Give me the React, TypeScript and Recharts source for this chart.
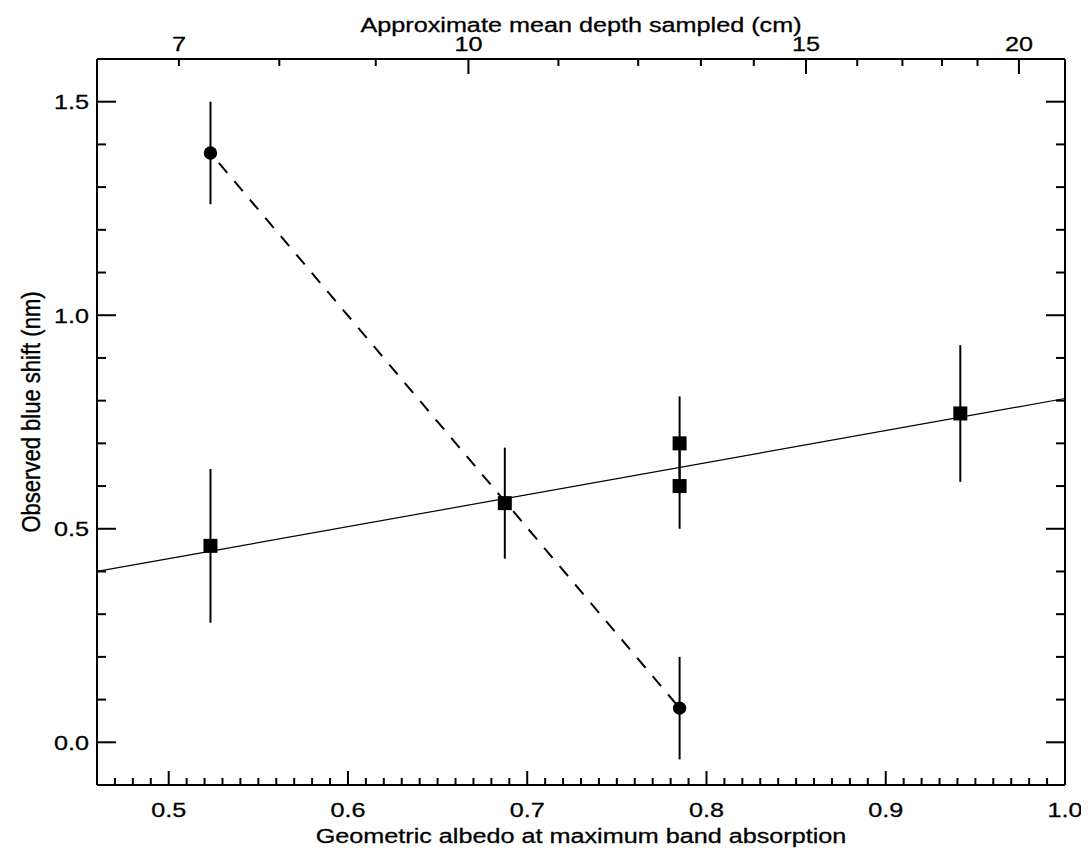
import { ErrorBar, Scatter, ScatterChart, XAxis, YAxis } from "recharts";

// bottom axis: geometric albedo
const albedoMajor = [0.5, 0.6, 0.7, 0.8, 0.9, 1.0];
// left / right axis: blue shift (nm)
const shiftMajor = [0.0, 0.5, 1.0, 1.5];
// top axis: depth (cm) and where each tick sits on the albedo scale
const depthCm = [7, 8, 9, 10, 11, 12, 13, 14, 15, 16, 17, 18, 19, 20];
const depthAlbedo = [
  0.5057, 0.5617, 0.6155, 0.6672, 0.7174, 0.7619, 0.7969, 0.8264, 0.8555, 0.8841, 0.9093, 0.9314,
  0.9512, 0.9743,
];
const depthLabelled = [7, 10, 15, 20];
const depthLong = [10, 15, 20];

// squares (with error bars)
const squareAlbedo = [0.5233, 0.6875, 0.785, 0.785, 0.9416];
const squareShift = [0.46, 0.56, 0.7, 0.6, 0.77];
const squareErr = [0.18, 0.13, 0.11, 0.1, 0.16];

// circles (joined by dashed line)
const circleAlbedo = [0.5233, 0.785];
const circleShift = [1.38, 0.08];
const circleErr = [0.12, 0.12];

// solid fit line end points
const fitAlbedo = [0.46, 1.0];
const fitShift = [0.4, 0.805];

const squares = squareAlbedo.map((x, i) => ({ x, y: squareShift[i], err: squareErr[i] }));
const circles = circleAlbedo.map((x, i) => ({ x, y: circleShift[i], err: circleErr[i] }));
const fit = fitAlbedo.map((x, i) => ({ x, y: fitShift[i] }));

const albedoTicks: number[] = [];
for (let i = 47; i <= 100; i++) albedoTicks.push(i / 100);
const shiftTicks: number[] = [];
for (let i = 0; i <= 15; i++) shiftTicks.push(i / 10);

const W = 1081;
const H = 848;
const LEFT_W = 89;
const RIGHT_W = 16;
const RIGHT_PAD = 8; // room for the "1.0" label past the frame
const TOP_H = 51;
const BOTTOM_H = 71;
const PLOT_CX = LEFT_W + (W - RIGHT_PAD - LEFT_W - RIGHT_W) / 2;
const PLOT_CY = TOP_H + (H - TOP_H - BOTTOM_H) / 2;

const FONT = "'Liberation Sans', Arial, Helvetica, sans-serif";

// the original text is a little wider than Arial, so stretch it
function Txt({ x, y, anchor = "middle", rotate = 0, sx = 1.2, sy = 1, children }: any) {
  return (
    <text
      transform={`translate(${x},${y}) rotate(${rotate}) scale(${sx},${sy})`}
      textAnchor={anchor}
      fontFamily={FONT}
      fontSize={21}
      fill="#000"
      stroke="#000"
      strokeWidth={0.3}
    >
      {children}
    </text>
  );
}

const near = (a: number, b: number) => Math.abs(a - b) < 1e-6;

function BottomTick({ x, y, payload }: any) {
  const v = payload.value;
  const major = albedoMajor.some((m) => near(m, v));
  return (
    <g>
      <line x1={x} y1={y} x2={x} y2={y - (major ? 14 : 7)} stroke="#000" strokeWidth={2} />
      {major && (
        <Txt x={x} y={y + 32}>
          {v.toFixed(1)}
        </Txt>
      )}
    </g>
  );
}

function TopTick({ x, y, payload }: any) {
  const i = depthAlbedo.findIndex((d) => near(d, payload.value));
  const cm = depthCm[i];
  return (
    <g>
      <line x1={x} y1={y} x2={x} y2={y + (depthLong.includes(cm) ? 15 : 7)} stroke="#000" strokeWidth={2} />
      {depthLabelled.includes(cm) && (
        <Txt x={x} y={y - 8}>
          {cm}
        </Txt>
      )}
    </g>
  );
}

function LeftTick({ x, y, payload }: any) {
  const v = payload.value;
  const major = shiftMajor.some((m) => near(m, v));
  return (
    <g>
      <line x1={x} y1={y} x2={x + (major ? 19 : 9)} y2={y} stroke="#000" strokeWidth={2} />
      {major && (
        <Txt x={x - 8} y={y + 7.5} anchor="end">
          {v.toFixed(1)}
        </Txt>
      )}
    </g>
  );
}

function RightTick({ x, y, payload }: any) {
  const major = shiftMajor.some((m) => near(m, payload.value));
  return <line x1={x} y1={y} x2={x - (major ? 19 : 9)} y2={y} stroke="#000" strokeWidth={2} />;
}

const Square = ({ cx, cy }: any) => <rect x={cx - 7} y={cy - 7} width={14} height={14} fill="#000" />;
const Dot = ({ cx, cy }: any) => <circle cx={cx} cy={cy} r={6.7} fill="#000" />;
const Nothing = () => <g />;

const axisLine = { stroke: "#000", strokeWidth: 2 };

export default function App() {
  return (
    <div style={{ width: W, height: H }}>
      <ScatterChart width={W} height={H} margin={{ top: 0, right: RIGHT_PAD, bottom: 0, left: 0 }}>
        <XAxis
          xAxisId="bottom"
          type="number"
          dataKey="x"
          domain={[0.46, 1.0]}
          allowDataOverflow
          ticks={albedoTicks}
          interval={0}
          height={BOTTOM_H}
          tickSize={0}
          tickMargin={0}
          tickLine={false}
          axisLine={axisLine}
          tick={<BottomTick />}
          label={{
            content: () => (
              <Txt x={PLOT_CX} y={H - 13}>
                Geometric albedo at maximum band absorption
              </Txt>
            ),
          }}
        />
        <XAxis
          xAxisId="top"
          orientation="top"
          type="number"
          dataKey="x"
          domain={[0.46, 1.0]}
          allowDataOverflow
          ticks={depthAlbedo}
          interval={0}
          height={TOP_H}
          tickSize={0}
          tickMargin={0}
          tickLine={false}
          axisLine={axisLine}
          tick={<TopTick />}
          label={{
            content: () => (
              <Txt x={PLOT_CX} y={24}>
                Approximate mean depth sampled (cm)
              </Txt>
            ),
          }}
        />
        <YAxis
          yAxisId="left"
          type="number"
          dataKey="y"
          domain={[-0.1, 1.6]}
          allowDataOverflow
          ticks={shiftTicks}
          interval={0}
          width={LEFT_W}
          tickSize={0}
          tickMargin={0}
          tickLine={false}
          axisLine={axisLine}
          tick={<LeftTick />}
          label={{
            content: () => (
              <Txt x={32} y={PLOT_CY - 10} rotate={-90} sx={1.05} sy={1.2}>
                Observed blue shift (nm)
              </Txt>
            ),
          }}
        />
        <YAxis
          yAxisId="right"
          orientation="right"
          type="number"
          dataKey="y"
          domain={[-0.1, 1.6]}
          allowDataOverflow
          ticks={shiftTicks}
          interval={0}
          width={RIGHT_W}
          tickSize={0}
          tickMargin={0}
          tickLine={false}
          axisLine={axisLine}
          tick={<RightTick />}
        />
        <Scatter
          xAxisId="bottom"
          yAxisId="left"
          data={fit}
          fill="#000"
          line={{ stroke: "#000", strokeWidth: 1.2 }}
          shape={<Nothing />}
          isAnimationActive={false}
        />
        <Scatter
          xAxisId="bottom"
          yAxisId="left"
          data={circles}
          fill="#000"
          line={{ stroke: "#000", strokeWidth: 2, strokeDasharray: "13 11", strokeDashoffset: 11 }}
          shape={<Dot />}
          isAnimationActive={false}
        >
          <ErrorBar dataKey="err" direction="y" width={0} stroke="#000" strokeWidth={2} />
        </Scatter>
        <Scatter
          xAxisId="bottom"
          yAxisId="left"
          data={squares}
          fill="#000"
          shape={<Square />}
          isAnimationActive={false}
        >
          <ErrorBar dataKey="err" direction="y" width={0} stroke="#000" strokeWidth={2} />
        </Scatter>
      </ScatterChart>
    </div>
  );
}
